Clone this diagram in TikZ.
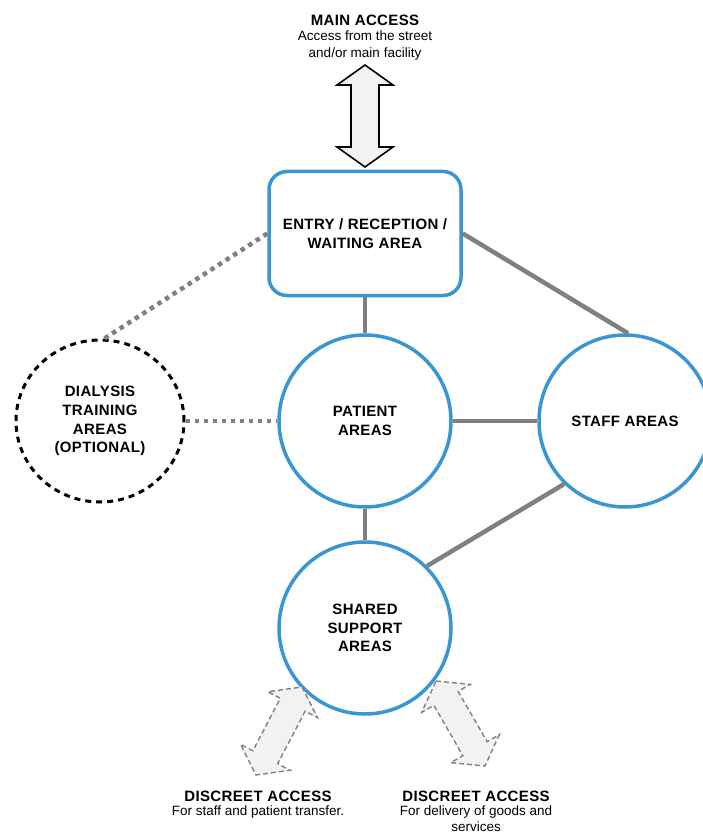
\documentclass[tikz,border=0pt]{standalone}
\usepackage{fontspec}
\setmainfont{Liberation Sans}
\newfontfamily\lblfont[LetterSpace=2.5]{Liberation Sans}
\usetikzlibrary{shapes.geometric,calc}
\definecolor{zblue}{HTML}{3A96D2}
\definecolor{zgray}{HTML}{808080}
\definecolor{zfill}{HTML}{F2F2F2}
\newcommand\DArrow[3]{%
  \path (#1) coordinate (da1) (#2) coordinate (db1);
  \coordinate (dah) at ($(da1)!20pt!(db1)$);
  \coordinate (dbh) at ($(db1)!20pt!(da1)$);
  \draw[#3] (da1) -- ($(dah)!28pt!90:(db1)$) -- ($(dah)!14pt!90:(db1)$)
    -- ($(dbh)!14pt!-90:(da1)$) -- ($(dbh)!28pt!-90:(da1)$) -- (db1)
    -- ($(dbh)!28pt!90:(da1)$) -- ($(dbh)!14pt!90:(da1)$)
    -- ($(dah)!14pt!-90:(db1)$) -- ($(dah)!28pt!-90:(db1)$) -- cycle;}
\begin{document}
\begin{tikzpicture}[x=1pt,y=-1pt,
  lbl/.style={font=\lblfont\fontsize{15}{18.7}\selectfont\bfseries,align=center},
  area/.style={circle,draw=zblue,line width=3.5pt,fill=white,minimum size=172pt,inner sep=0pt,lbl},
  entrybox/.style={rectangle,rounded corners=18pt,draw=zblue,line width=3.5pt,fill=white,minimum width=192pt,minimum height=124pt,inner sep=0pt,lbl},
  optarea/.style={ellipse,draw=black,line width=3pt,dash pattern=on 6pt off 5pt,fill=white,minimum width=168pt,minimum height=162pt,inner sep=0pt,lbl},
  link/.style={draw=zgray,line width=4.5pt},
  optlink/.style={draw=zgray,line width=4.5pt,dash pattern=on 4.5pt off 4.5pt},
  mainarr/.style={draw=black,fill=zfill,line width=1.6pt,line join=miter},
  sidearr/.style={draw=zgray,fill=zfill,line width=1.4pt,dash pattern=on 5pt off 3pt},
  ttl/.style={font=\lblfont\fontsize{15}{17}\selectfont\bfseries,align=center},
  sub/.style={font=\fontsize{13.5}{15.2}\selectfont,align=center,inner sep=0pt}]
\useasboundingbox (0,0) rectangle (703,834);

\node[entrybox] (entry) at (365,233.5) {ENTRY / RECEPTION /\\WAITING AREA};
\node[area] (patient) at (365,421) {PATIENT\\AREAS};
\node[area] (staff) at (625,421) {STAFF AREAS};
\node[area] (shared) at (365,628) {SHARED\\SUPPORT\\AREAS};
\node[optarea] (dial) at (100,421) {DIALYSIS\\TRAINING\\AREAS\\(OPTIONAL)};

\draw[link] (entry.south) -- (patient.north);
\draw[link] (entry.east) -- (staff.88);
\draw[link] (patient.east) -- (staff.west);
\draw[link] (patient.south) -- (shared.north);
\draw[link] (staff.226) -- (shared.45);
\draw[optlink] (entry.west) -- (dial.87);
\draw[optlink] (dial.east) -- (patient.west);

\node[ttl] (mainttl) at (365,20) {MAIN ACCESS};
\node[sub,anchor=north,font=\fontsize{13.5}{16.3}\selectfont] (mainsub) at (365,31) {Access from the street\\and/or main facility};
\coordinate (ma) at (365,65);
\coordinate (mb) at (365,167);
\DArrow{ma}{mb}{mainarr}

\coordinate (la) at (302,687);
\coordinate (lb) at (256,775);
\DArrow{la}{lb}{sidearr}
\coordinate (ra) at (436,681);
\coordinate (rb) at (485,766);
\DArrow{ra}{rb}{sidearr}

\node[ttl] (lttl) at (258,796) {DISCREET ACCESS};
\node[sub,anchor=north] (lsub) at (258,806) {For staff and patient transfer.};
\node[ttl] (rttl) at (476,796) {DISCREET ACCESS};
\node[sub,anchor=north] (rsub) at (476,806) {For delivery of goods and\\services};
\end{tikzpicture}
\end{document}
